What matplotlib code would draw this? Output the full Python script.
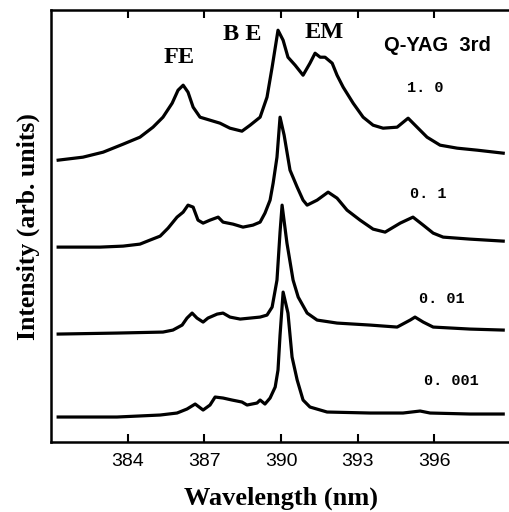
import numpy as np
import matplotlib.pyplot as plt

# wavelength (nm) / intensity (arb. units, traces already offset)
wl_1 = [381.28, 382.25, 383.04, 383.82, 384.48, 384.99, 385.38, 385.74, 385.97, 386.17,
        386.36, 386.56, 386.83, 387.22, 387.61, 388.00, 388.47, 388.79, 389.18, 389.45,
        389.65, 389.88, 390.08, 390.27, 390.55, 390.86, 391.13, 391.33, 391.53, 391.72,
        392.00, 392.19, 392.43, 392.82, 393.21, 393.60, 393.99, 394.54, 394.97, 395.32,
        395.71, 396.22, 396.89, 397.67, 398.69]
int_1 = [282, 285, 290, 298, 305, 315, 325, 339, 352, 357,
         350, 335, 325, 322, 319, 314, 311, 317, 325, 345,
         375, 412, 402, 385, 377, 367, 379, 389, 385, 385,
         379, 367, 355, 339, 325, 317, 314, 315, 324, 315,
         305, 297, 294, 292, 289]

wl_2 = [381.28, 382.92, 383.82, 384.48, 384.87, 385.27, 385.58, 385.93, 386.17, 386.36,
        386.56, 386.75, 386.95, 387.22, 387.54, 387.73, 388.12, 388.51, 388.90, 389.18,
        389.37, 389.57, 389.69, 389.84, 389.96, 390.12, 390.35, 390.63, 390.86, 391.02,
        391.41, 391.84, 392.19, 392.58, 393.09, 393.60, 394.07, 394.66, 395.16, 395.56,
        395.95, 396.34, 397.39, 398.69]
int_2 = [195, 195, 196, 198, 202, 206, 214, 225, 230, 237,
         235, 222, 219, 222, 225, 220, 218, 215, 217, 220,
         229, 242, 259, 285, 325, 307, 272, 255, 242, 237,
         242, 250, 244, 232, 222, 213, 210, 219, 225, 217,
         209, 205, 203, 201]

wl_3 = [381.28, 383.58, 385.38, 385.77, 386.13, 386.32, 386.52, 386.71, 386.95, 387.14,
        387.50, 387.73, 388.00, 388.40, 388.79, 389.18, 389.45, 389.65, 389.77, 389.84,
        389.96, 390.04, 390.23, 390.47, 390.67, 391.02, 391.41, 392.19, 393.48, 394.54,
        395.05, 395.24, 395.56, 395.95, 397.39, 398.69]
int_3 = [108, 109, 110, 112, 117, 124, 129, 124, 120, 124,
         128, 129, 125, 123, 124, 125, 127, 135, 152, 162,
         210, 237, 199, 162, 145, 129, 122, 119, 117, 115,
         122, 125, 120, 115, 113, 112]

wl_4 = [381.28, 383.58, 385.27, 385.93, 386.32, 386.64, 386.95, 387.22, 387.42, 387.73,
        388.08, 388.47, 388.67, 389.06, 389.18, 389.37, 389.57, 389.77, 389.88, 389.96,
        390.08, 390.27, 390.43, 390.63, 390.86, 391.13, 391.80, 393.48, 394.77, 395.44,
        395.83, 397.39, 398.69]
int_4 = [25, 25, 27, 29, 33, 38, 32, 37, 45, 44,
         42, 40, 37, 39, 42, 38, 44, 55, 72, 107,
         150, 129, 85, 62, 42, 35, 30, 29, 29, 31,
         29, 28, 28]

labels = ["1. 0", "0. 1", "0. 01", "0. 001"]
label_wl = [395.63, 395.75, 396.30, 396.65]
label_int = [354, 248, 143, 61]

fig = plt.figure(figsize=(5.09, 5.12), dpi=100)
ax = fig.add_axes([0.1002, 0.1367, 0.904, 0.8433])

for w, i in [(wl_1, int_1), (wl_2, int_2), (wl_3, int_3), (wl_4, int_4)]:
    ax.plot(w, i, color="black", lw=2.3, solid_joinstyle="round")

ax.set_xlim(381, 399)
ax.set_ylim(0, 432)
ax.set_xticks([384, 387, 390, 393, 396])
ax.set_yticks([])
ax.tick_params(axis="x", direction="in", top=True, length=6, width=1.5,
               labelsize=14, pad=8)
for lbl in ax.get_xticklabels():
    lbl.set_family("Liberation Sans")
for s in ax.spines.values():
    s.set_linewidth(1.8)

serif = "Liberation Serif"
ax.text(386.0, 385, "FE", family=serif, weight="bold", fontsize=17.5, ha="center", va="center")
ax.text(388.5, 408, "B E", family=serif, weight="bold", fontsize=17.5, ha="center", va="center")
ax.text(391.7, 410, "EM", family=serif, weight="bold", fontsize=17.5, ha="center", va="center")
ax.text(396.1, 397, "Q-YAG  3rd", family="Liberation Sans", weight="bold", fontsize=14.5,
        ha="center", va="center")

for t, x, y in zip(labels, label_wl, label_int):
    ax.text(x, y, t, family="Liberation Mono", weight="bold", fontsize=11,
            ha="center", va="center")

ax.set_xlabel("Wavelength (nm)", family=serif, weight="bold", fontsize=19, labelpad=12)
ax.set_ylabel("Intensity (arb. units)", family=serif, weight="bold", fontsize=18.5, labelpad=8)

fig.savefig("out.png", dpi=100)
